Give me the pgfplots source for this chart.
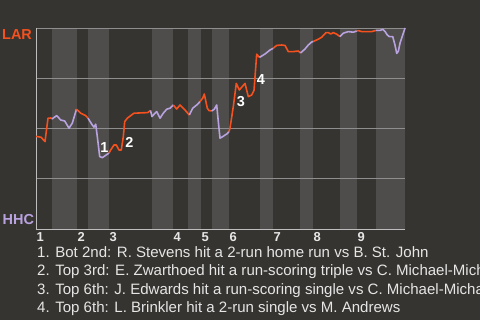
\documentclass[border=0pt]{standalone}
\usepackage{pgfplots}
\pgfplotsset{compat=1.18}
\usepackage{fontspec}
\setmainfont{Liberation Sans}
\definecolor{bg}{HTML}{363430}
\definecolor{band}{HTML}{4E4D4B}
\definecolor{lar}{HTML}{F4511E}
\definecolor{hhc}{HTML}{B8A2E0}
\definecolor{txt}{HTML}{E6E6E6}
\definecolor{gridc}{HTML}{8E8E8E}
\definecolor{axc}{HTML}{BDBDBD}
\begin{document}
\begin{tikzpicture}
\fill[bg] (0bp,0bp) rectangle (480bp,320bp);
\clip (0bp,0bp) rectangle (480bp,320bp);
% half-inning bands
\begin{axis}[
 at={(36bp,90bp)}, anchor=south west, scale only axis, width=369bp, height=202bp,
 xmin=36, xmax=405, ymin=-0.01, ymax=1, hide axis,
]
\addplot[draw=none, fill=band] coordinates {(52,-0.01)(77,-0.01)(77,1)(52,1)};
\addplot[draw=none, fill=band] coordinates {(88,-0.01)(109,-0.01)(109,1)(88,1)};
\addplot[draw=none, fill=band] coordinates {(152,-0.01)(173,-0.01)(173,1)(152,1)};
\addplot[draw=none, fill=band] coordinates {(188,-0.01)(201,-0.01)(201,1)(188,1)};
\addplot[draw=none, fill=band] coordinates {(212,-0.01)(229,-0.01)(229,1)(212,1)};
\addplot[draw=none, fill=band] coordinates {(260,-0.01)(273,-0.01)(273,1)(260,1)};
\addplot[draw=none, fill=band] coordinates {(300,-0.01)(313,-0.01)(313,1)(300,1)};
\addplot[draw=none, fill=band] coordinates {(340,-0.01)(357,-0.01)(357,1)(340,1)};
\addplot[draw=none, fill=band] coordinates {(376,-0.01)(405,-0.01)(405,1)(376,1)};
\end{axis}
\begin{axis}[
 at={(36bp,90bp)}, anchor=south west, scale only axis, width=369bp, height=202bp,
 xmin=36, xmax=405, ymin=-0.01, ymax=1,
 axis x line*=bottom, axis y line*=left, axis line style={axc, line width=1bp, -},
 ytick={0.25,0.5,0.75,1}, yticklabels={}, ymajorgrids, grid style={gridc, line width=0.8bp},
 xtick={36,77,109,173,201,229,273,313,357}, xticklabels={1,2,3,4,5,6,7,8,9},
 major tick length=0pt,
 xticklabel style={anchor=north west, inner sep=0pt, yshift=-2.5bp, xshift=0.5bp, font=\bfseries\fontsize{13}{13}\selectfont, text=txt},
 clip=false,
 every axis plot/.append style={line width=1.6bp, line join=round},
]
% win probability, top halves (LAR batting) red, bottom halves (HHC batting) purple
\addplot[lar] coordinates {(36,0.458)(41,0.454)(45,0.432)(48,0.549)(51,0.550)(52,0.545)};
\addplot[hhc] coordinates {(52,0.545)(56.7,0.562)(60.7,0.540)(64.7,0.535)(69,0.499)(72.3,0.524)(76.5,0.594)};
\addplot[lar] coordinates {(76.5,0.594)(80.7,0.574)(85.7,0.562)(88,0.549)};
\addplot[hhc] coordinates {(88,0.549)(92.3,0.515)(94,0.504)(95.7,0.519)(97.3,0.457)(99.7,0.357)(102.3,0.352)(104.7,0.360)(107.3,0.369)(109,0.375)};
\addplot[lar] coordinates {(109,0.375)(110.7,0.390)(114,0.415)(116.3,0.415)(119,0.390)(121.3,0.390)(123.3,0.457)(124.7,0.532)(127.3,0.549)(130.7,0.562)(134,0.574)(147.7,0.577)(150.5,0.588)};
\addplot[hhc] coordinates {(150.5,0.588)(152,0.557)(155,0.574)(156.7,0.582)(160,0.549)(163.3,0.574)(166.7,0.594)(170,0.599)(173.3,0.615)};
\addplot[lar] coordinates {(173.3,0.615)(176.7,0.595)(180,0.615)(185,0.590)(189.3,0.565)};
\addplot[hhc] coordinates {(189.3,0.565)(192.7,0.599)(196.7,0.615)(200,0.632)};
\addplot[lar] coordinates {(200,0.632)(202.7,0.649)(204.3,0.670)(207.3,0.599)(209,0.587)(211.7,0.585)};
\addplot[hhc] coordinates {(211.7,0.585)(214.3,0.594)(216.7,0.615)(218.3,0.532)(220,0.449)(222.7,0.457)(226.7,0.470)(229,0.482)};
\addplot[lar] coordinates {(229,0.482)(230,0.499)(233.3,0.607)(236.3,0.723)(239.3,0.690)(245,0.723)(248.3,0.657)(251.7,0.665)(254,0.688)(256.7,0.869)(259.5,0.853)};
\addplot[hhc] coordinates {(259.5,0.853)(265,0.870)(270,0.890)(273,0.898)};
\addplot[lar] coordinates {(273,0.898)(276.7,0.913)(281.7,0.915)(285,0.913)(288.3,0.882)(293.3,0.882)(298.3,0.885)(300.5,0.875)};
\addplot[hhc] coordinates {(300.5,0.875)(305,0.895)(308.3,0.915)(311.7,0.930)(313.5,0.933)};
\addplot[lar] coordinates {(313.5,0.933)(318.3,0.944)(321.7,0.954)(326,0.977)(328.3,0.977)(330.7,0.970)(333.3,0.977)(336.7,0.969)(340,0.957)};
\addplot[hhc] coordinates {(340,0.957)(343.3,0.974)(348.3,0.982)(353.3,0.979)(356.7,0.985)};
\addplot[lar] coordinates {(356.7,0.985)(358.3,0.987)(361.7,0.982)(371.7,0.982)(376,0.988)};
\addplot[hhc] coordinates {(376,0.988)(380,0.988)(382.7,0.993)(385,0.983)(387.3,0.965)(389.3,0.957)(392.7,0.957)(395,0.915)(396.7,0.873)(398.3,0.883)(400,0.924)(403.3,0.974)(405,1.000)};
% event markers
\node[font=\bfseries\fontsize{14.5}{14.5}\selectfont, text=white] at (axis cs:104.5,0.4025) {1};
\node[font=\bfseries\fontsize{14.5}{14.5}\selectfont, text=white] at (axis cs:129.5,0.430) {2};
\node[font=\bfseries\fontsize{14.5}{14.5}\selectfont, text=white] at (axis cs:241,0.630) {3};
\node[font=\bfseries\fontsize{14.5}{14.5}\selectfont, text=white] at (axis cs:261,0.740) {4};
\end{axis}
\node[anchor=base west, inner sep=0pt, text=lar, font=\bfseries\fontsize{14.5}{14.5}\selectfont] at (2bp,280.7bp) {LAR};
\node[anchor=base west, inner sep=0pt, text=hhc, font=\bfseries\fontsize{14.5}{14.5}\selectfont] at (2.5bp,95bp) {HHC};
\begin{scope}[every node/.style={anchor=base west, inner sep=0pt, text=txt, font=\fontsize{15.1}{18}\selectfont}]
\node at (37bp,62bp) {1. Bot 2nd: R. Stevens hit a 2-run home run vs B. St. John};
\node at (37bp,44bp) {2. Top 3rd: E. Zwarthoed hit a run-scoring triple vs C. Michael-Michael};
\node at (37bp,26bp) {3. Top 6th: J. Edwards hit a run-scoring single vs C. Michael-Michael};
\node at (37bp,8bp) {4. Top 6th: L. Brinkler hit a 2-run single vs M. Andrews};
\end{scope}
\end{tikzpicture}
\end{document}
